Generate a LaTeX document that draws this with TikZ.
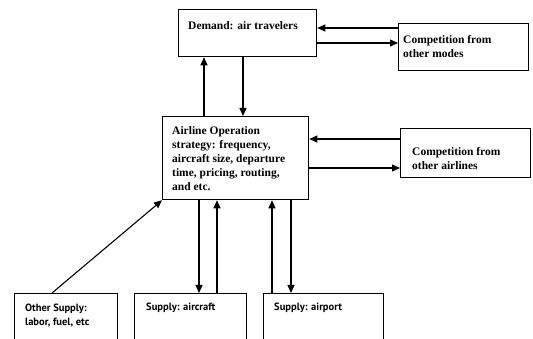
\documentclass[tikz,border=0pt]{standalone}
\usepackage{fontspec}
\setmainfont{Liberation Serif}
\newfontfamily\supfont{PT Sans}
\usetikzlibrary{arrows.meta}

\begin{document}
\begin{tikzpicture}[x=1pt,y=-1pt,>={Triangle[length=8pt,width=7pt]},
  box/.style={draw,line width=1.3pt,inner sep=0pt,anchor=north west},
  txt/.style={anchor=north west,align=left,inner sep=0pt,font=\fontsize{11.5}{14}\selectfont\bfseries},
  stxt/.style={txt,font=\supfont\fontsize{10.5}{14}\selectfont\bfseries},
  link/.style={->,line width=1.1pt}]
\useasboundingbox (0,0) rectangle (533,339);
% boxes
\node[box,minimum width=138pt,minimum height=47pt] (demand) at (178,9) {};
\node[box,minimum width=130pt,minimum height=47pt] (cmodes) at (398,23) {};
\node[box,minimum width=146pt,minimum height=83pt] (airline) at (162,116) {};
\node[box,minimum width=130pt,minimum height=49pt] (cairlines) at (400,128) {};
\node[box,minimum width=103pt,minimum height=46pt] (other) at (14,293) {};
\node[box,minimum width=112pt,minimum height=46pt] (aircraft) at (134,293) {};
\node[box,minimum width=120pt,minimum height=46pt] (airport) at (263,293) {};
% texts
\node[txt] (demandtxt) at (188,21) {Demand: air travelers};
\node[txt] (cmodestxt) at (403,35) {Competition from\\other modes};
\node[txt] (airlinetxt) at (172,126) {Airline Operation\\strategy: frequency,\\aircraft size, departure\\time, pricing, routing,\\and etc.};
\node[txt] (cairlinestxt) at (412,147) {Competition from\\other airlines};
\node[stxt] (othertxt) at (25,304) {Other Supply:\\labor, fuel, etc};
\node[stxt] (aircrafttxt) at (146,303) {Supply: aircraft};
\node[stxt] (airporttxt) at (274,303) {Supply: airport};
% links
\draw[link] (cmodes.west |- 0,28) -- (demand.east |- 0,28);
\draw[link] (demand.east |- 0,43) -- (cmodes.west |- 0,43);
\draw[link] (204,0 |- airline.north) -- (204,0 |- demand.south);
\draw[link] (243,0 |- demand.south) -- (243,0 |- airline.north);
\draw[link] (cairlines.west |- 0,139) -- (airline.east |- 0,139);
\draw[link] (airline.east |- 0,168) -- (cairlines.west |- 0,168);
\draw[link] (199,0 |- airline.south) -- (199,0 |- aircraft.north);
\draw[link] (217,0 |- aircraft.north) -- (217,0 |- airline.south);
\draw[link] (272,0 |- airport.north) -- (272,0 |- airline.south);
\draw[link] (291,0 |- airline.south) -- (291,0 |- airport.north);
\draw[link] (52,0 |- other.north) -- (airline.south west);
\end{tikzpicture}
\end{document}
